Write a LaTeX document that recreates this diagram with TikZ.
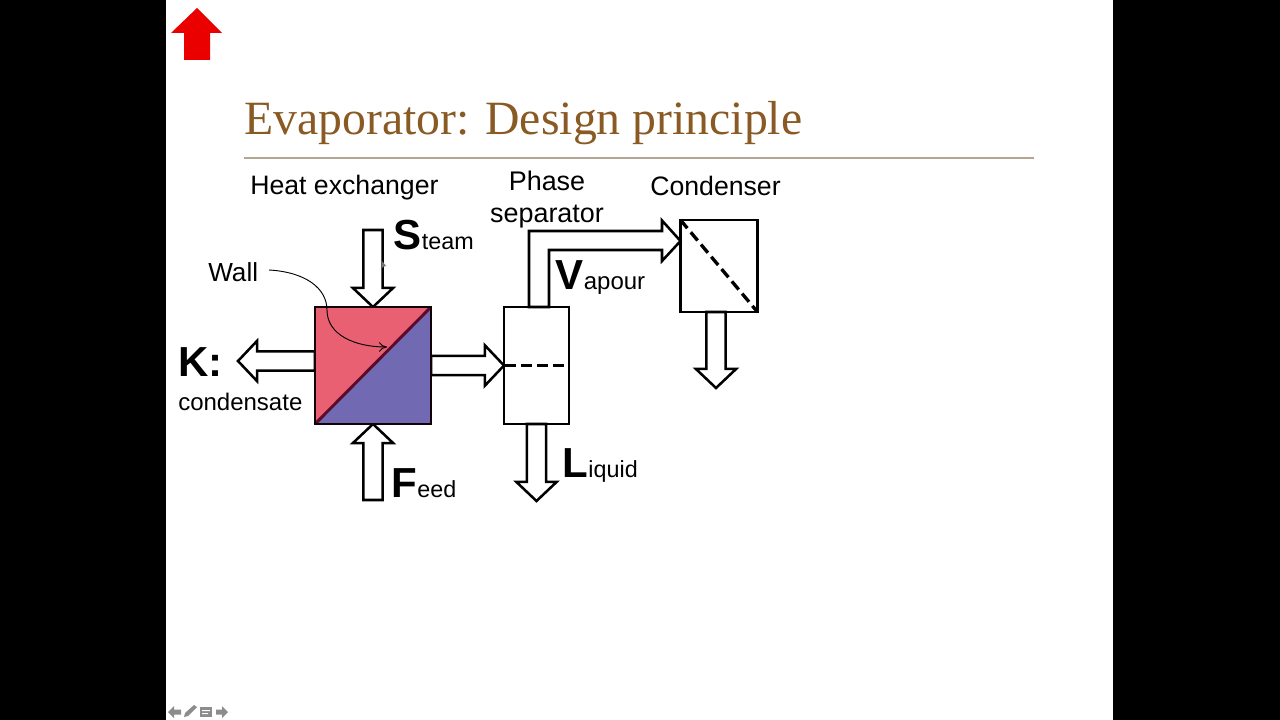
\documentclass[tikz,border=0pt]{standalone}
\usepackage{fontspec}
\setmainfont{Liberation Sans}
\newfontfamily\serifttl{Liberation Serif}
\usetikzlibrary{calc,arrows.meta}
\definecolor{ttl}{HTML}{8A5A24}
\definecolor{rulec}{HTML}{B3A794}
\definecolor{hotc}{HTML}{E96073}
\definecolor{coldc}{HTML}{716AB2}
\definecolor{wallc}{HTML}{5C0A2A}
\definecolor{navc}{HTML}{8C8C8C}
\tikzset{
  x=0.75pt,y=-0.75pt,
  txt/.style={inner sep=0pt,anchor=base west,font=\fontsize{20}{24}\selectfont},
  smalltxt/.style={inner sep=0pt,anchor=base west,font=\fontsize{17.5}{21}\selectfont},
  ctxt/.style={inner sep=0pt,anchor=base,font=\fontsize{20.2}{24}\selectfont},
  big/.style={inner sep=0pt,anchor=base west,font=\fontsize{31.5}{36}\selectfont\bfseries},
  unit/.style={draw=black,line width=1.9pt,fill=white,inner sep=0pt,outer sep=0pt,anchor=north west},
  fat/.style={draw=black,line width=1.9pt,fill=white,line join=miter,
    to path={let \p1=($(\tikztotarget)-(\tikztostart)$),\n1={veclen(\x1,\y1)},\n2={atan2(\y1,\x1)} in
      (\tikztostart) -- ++(\n2+90:7.2pt) -- ++(\n2:\n1-14.4pt) -- ++(\n2+90:8pt)
      -- (\tikztotarget) -- ($(\tikztostart)+(\n2:\n1-14.4pt)+(\n2-90:15.2pt)$)
      -- ++(\n2+90:8pt) -- ($(\tikztostart)+(\n2-90:7.2pt)$) -- cycle}},
  dashline/.style={line width=2.5pt,dash pattern=on 8pt off 4pt},
  nav/.style={fill=navc,draw=none},
}
\begin{document}
\begin{tikzpicture}
\useasboundingbox (0,0) rectangle (1280,720);
\fill[black] (0,0) rectangle (1280,720);
\fill[white] (166,0) rectangle (1113,720);

% red home arrow
\fill[red!92!black] (197,8) -- (222,33) -- (210,33) -- (210,60) -- (184,60) -- (184,33) -- (171,33) -- cycle;

% title
\node[inner sep=0pt,anchor=base west,text=ttl,font=\serifttl\fontsize{35.8}{40}\selectfont] (title) at (244,135) {Evaporator: Design principle};
\draw[rulec,line width=0.8pt] (244,158) -- (1034,158);

% units
\node[unit,minimum width=87pt,minimum height=87.75pt] (hx) at (315,307) {};
\node[unit,minimum width=48.75pt,minimum height=87.75pt] (sep) at (504,307) {};
\node[unit,minimum width=57.75pt,minimum height=69pt] (cond) at (680.5,220) {};

% positions of the free ends of the streams
\coordinate (steamin) at (hx.north|-0,230);
\coordinate (feedin) at (hx.south|-0,500);
\coordinate (ktip) at (238,361);
\coordinate (ltip) at (536.5,501);
\coordinate (ctip) at (716,388);
\coordinate (wallend) at (387,347);

% streams
\draw[fat] (steamin) to (hx.north);
\draw[fat] (feedin) to (hx.south);
\draw[fat] (hx.west|-ktip) to (ktip);
\draw[fat] (hx.east|-0,365.5) to (sep.west|-0,365.5);
\draw[fat] (sep.south-|ltip) to (ltip);
\draw[fat] (cond.south-|ctip) to (ctip);
\draw[draw=black,line width=1.9pt,fill=white,line join=miter]
  (sep.north-|529,0) -- (529,231) -- (662,231) -- (662,220.5) -- (cond.west|-0,241)
  -- (662,261) -- (662,250) -- (549,250) -- (sep.north-|549,0) -- cycle;

% heat exchanger interior
\fill[hotc] (hx.north west) -- (hx.north east) -- (hx.south west) -- cycle;
\fill[coldc] (hx.north east) -- (hx.south east) -- (hx.south west) -- cycle;
\draw[wallc,line width=2.2pt] (hx.south west) -- (hx.north east);
\draw[black!80!wallc,line width=1.7pt] (hx.north west) rectangle (hx.south east);

% separator and condenser interior
\draw[dashline] (505,365.5) -- (566,365.5);
\draw[dashline] (cond.north west) -- (cond.south east);

% labels
\node[txt] (lhx) at (250,195) {Heat exchanger};
\node[ctxt] (lph) at (547,191) {Phase};
\node[ctxt] (lsp) at (547,223) {separator};
\node[txt] (lco) at (650,196) {Condenser};
\node[inner sep=0pt,anchor=base west,font=\fontsize{19.6}{24}\selectfont] (wall) at (208,281) {Wall};
\node[big] (bs) at (393,249) {S};
\node[smalltxt] at (bs.base east) {team};
\node[big] (bk) at (178,376) {K:};
\node[inner sep=0pt,anchor=base west,font=\fontsize{18}{22}\selectfont] (lk) at (178,410) {condensate};
\node[big] (bf) at (391,497) {F};
\node[smalltxt] at (bf.base east) {eed};
\node[big] (bv) at (555,289) {V};
\node[inner sep=0pt,anchor=base west,font=\fontsize{18}{22}\selectfont] at (bv.base east) {apour};
\node[big] (bl) at (562,477) {L};
\node[smalltxt] at (bl.base east) {iquid};

% wall pointer
\draw[line width=0.7pt,-{To[length=6pt,width=7pt]}] (269,270) .. controls (305,272) and (327,288) .. (327,310) .. controls (327,335) and (355,347) .. (wallend);

% mouse cursor
\fill[black!55] (382,261) -- (382,268) -- (384,266.5) -- (386,266) -- cycle;

% navigation icons
\fill[nav] (168,712) -- (174,706) -- (174,709.5) -- (181,709.5) -- (181,714.5) -- (174,714.5) -- (174,718) -- cycle;
\fill[nav] (184,717) -- (185,713) -- (194,705) -- (197,707) -- (188,716) -- cycle;
\fill[nav] (200,707) rectangle (212,717);
\fill[white] (202,710) rectangle (210,711) (202,713) rectangle (208,714);
\fill[nav] (228,712) -- (222,706) -- (222,709.5) -- (216,709.5) -- (216,714.5) -- (222,714.5) -- (222,718) -- cycle;
\end{tikzpicture}
\end{document}
